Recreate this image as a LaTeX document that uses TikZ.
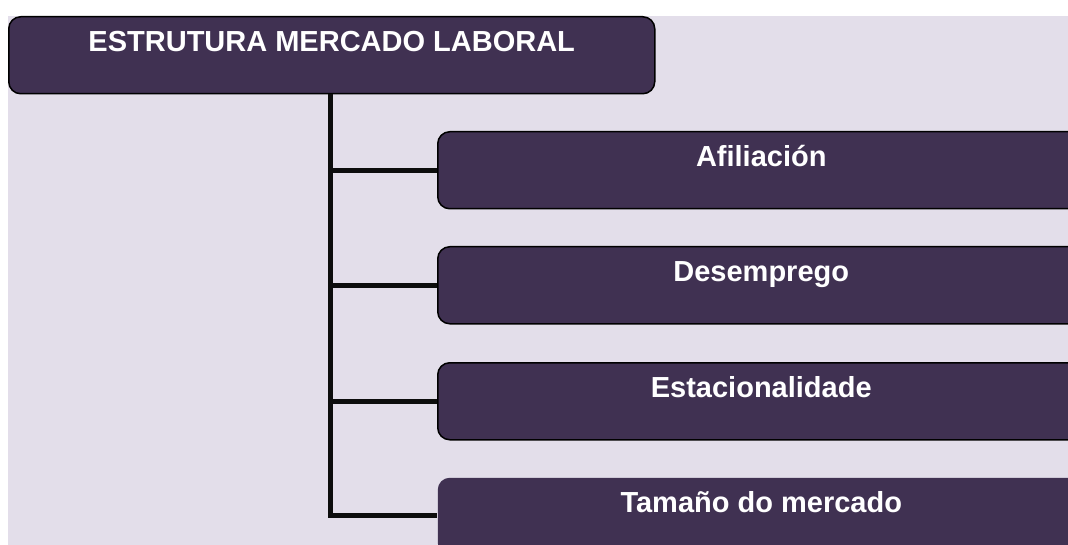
\documentclass[tikz,border=0pt]{standalone}
\usepackage{fontspec}
\setmainfont{Liberation Sans}
\usepackage{tikz}

\definecolor{roxo}{HTML}{403152}
\definecolor{fundo}{HTML}{E3DEEA}

\tikzset{
  caixa/.style={rounded corners=12pt, fill=roxo, draw=black, line width=1.5pt,
    anchor=north west, inner sep=0pt, text height=35pt, text depth=42pt,
    text=white, font=\fontsize{29}{35}\selectfont\bfseries},
  ramo/.style={line width=5pt, draw=black!95}
}

\begin{document}
\begin{tikzpicture}[x=1pt, y=-1pt]
        \useasboundingbox (0,0) rectangle (1068,545);
        \fill [fundo] (8,16) rectangle (1068,545);                   %fundo

        \node [caixa, minimum width=646pt] (estrutura) at (8,16)   {ESTRUTURA MERCADO LABORAL};
        \node [caixa, minimum width=647pt] (afiliacion) at (437,131) {Afiliación};
        \node [caixa, minimum width=647pt] (desemprego) at (437,246) {Desemprego};
        \node [caixa, minimum width=647pt] (estacional) at (437,362) {Estacionalidade};
        \node [caixa, minimum width=647pt, draw=none] (tamano) at (437,477) {Tamaño do mercado};

        \coordinate (canto) at (330,515);                            %canto do tronco
        \draw [ramo] (canto |- estrutura.south) -- (canto) -- (canto -| tamano.west);
        \draw [ramo] (canto |- afiliacion.west) -- (afiliacion.west); %
        \draw [ramo] (canto |- desemprego.west) -- (desemprego.west); %
        \draw [ramo] (canto |- estacional.west) -- (estacional.west); %
\end{tikzpicture}
\end{document}
